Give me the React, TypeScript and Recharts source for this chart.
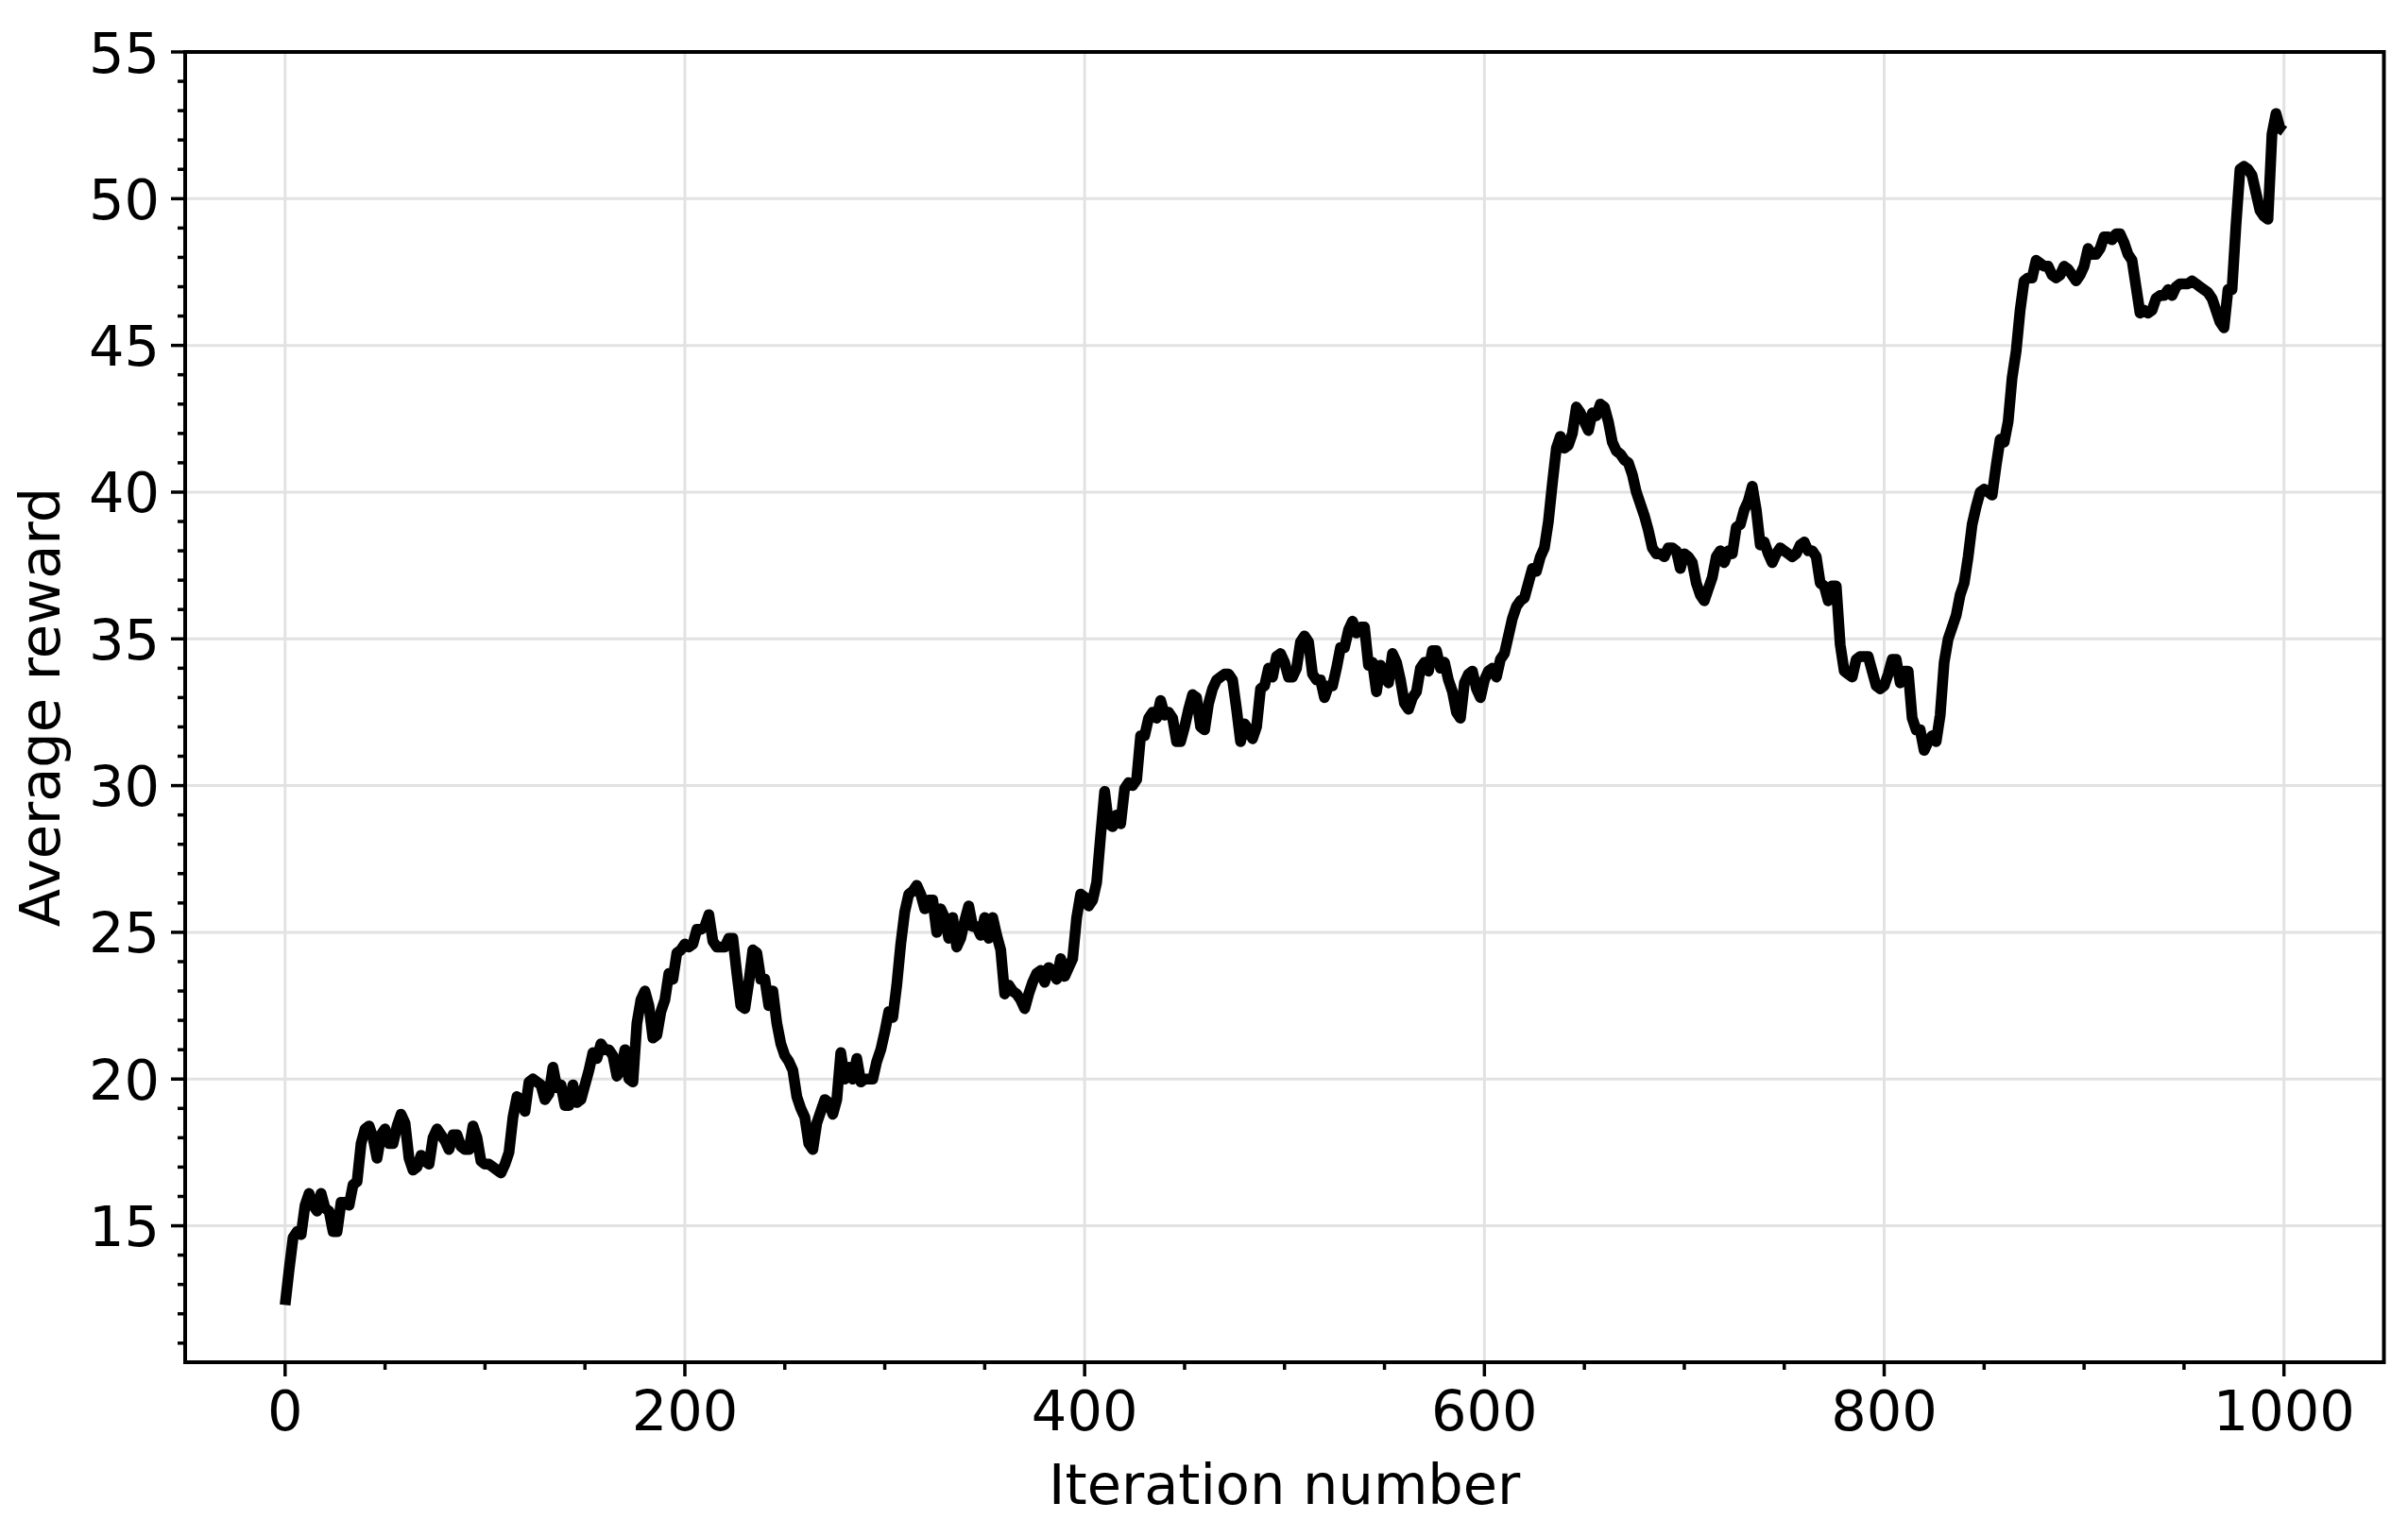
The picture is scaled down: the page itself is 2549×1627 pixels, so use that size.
import React from 'react';
import { LineChart, Line, XAxis, YAxis, CartesianGrid, ReferenceArea } from 'recharts';

// Iterations are sampled every STEP units starting from 0
const STEP = 2;

// Average reward at iterations 0, 2, 4, ... 1000
const rewards = [
  12.3, 13.5, 14.6, 14.8, 14.7, 15.7, 16.1, 15.7, 15.5, 16.1,
  15.6, 15.5, 14.8, 14.8, 15.8, 15.8, 15.7, 16.4, 16.5, 17.8,
  18.3, 18.4, 18.0, 17.3, 18.1, 18.3, 17.8, 17.8, 18.4, 18.8,
  18.5, 17.3, 16.9, 17.0, 17.4, 17.2, 17.1, 18.0, 18.3, 18.1,
  17.9, 17.6, 18.1, 18.1, 17.7, 17.6, 17.6, 18.4, 18.0, 17.2,
  17.1, 17.1, 17.0, 16.9, 16.8, 17.1, 17.5, 18.7, 19.4, 19.3,
  18.9, 19.9, 20.0, 19.9, 19.8, 19.3, 19.5, 20.4, 19.7, 19.8,
  19.1, 19.1, 19.8, 19.2, 19.3, 19.8, 20.3, 20.9, 20.7, 21.2,
  21.0, 21.0, 20.8, 20.1, 20.3, 21.0, 20.0, 19.9, 21.9, 22.7,
  23.0, 22.5, 21.4, 21.5, 22.3, 22.7, 23.6, 23.4, 24.3, 24.4,
  24.6, 24.5, 24.6, 25.1, 25.1, 25.2, 25.6, 24.7, 24.5, 24.5,
  24.5, 24.8, 24.8, 23.6, 22.5, 22.4, 23.3, 24.4, 24.3, 23.4,
  23.4, 22.5, 23.0, 21.9, 21.2, 20.8, 20.6, 20.3, 19.4, 19.0,
  18.7, 17.8, 17.6, 18.5, 18.9, 19.3, 19.2, 18.8, 19.3, 20.9,
  20.0, 20.4, 20.0, 20.7, 19.9, 20.0, 20.0, 20.0, 20.6, 21.0,
  21.6, 22.3, 22.1, 23.2, 24.6, 25.7, 26.3, 26.4, 26.6, 26.3,
  25.8, 26.1, 26.1, 25.0, 25.8, 25.5, 24.8, 25.5, 24.5, 24.8,
  25.4, 25.9, 25.2, 25.2, 24.9, 25.5, 24.8, 25.5, 24.9, 24.4,
  22.9, 23.2, 23.0, 22.9, 22.7, 22.4, 22.9, 23.3, 23.6, 23.7,
  23.3, 23.8, 23.7, 23.4, 24.1, 23.5, 23.8, 24.1, 25.5, 26.3,
  26.2, 25.9, 26.1, 26.7, 28.3, 29.8, 28.7, 28.6, 29.0, 28.7,
  29.9, 30.1, 30.0, 30.2, 31.7, 31.7, 32.3, 32.5, 32.3, 32.9,
  32.4, 32.5, 32.3, 31.5, 31.5, 32.0, 32.6, 33.1, 33.0, 32.0,
  31.9, 32.8, 33.3, 33.6, 33.7, 33.8, 33.8, 33.6, 32.6, 31.5,
  32.1, 31.9, 31.6, 32.0, 33.3, 33.4, 34.0, 33.7, 34.4, 34.5,
  34.2, 33.7, 33.7, 34.0, 34.9, 35.1, 34.9, 33.8, 33.6, 33.6,
  33.0, 33.4, 33.4, 34.0, 34.7, 34.7, 35.3, 35.6, 35.2, 35.4,
  35.4, 34.1, 34.2, 33.2, 34.1, 33.7, 33.5, 34.5, 34.2, 33.6,
  32.8, 32.6, 33.0, 33.2, 34.0, 34.2, 33.9, 34.6, 34.6, 34.0,
  34.2, 33.6, 33.2, 32.5, 32.3, 33.5, 33.8, 33.9, 33.3, 33.0,
  33.6, 33.9, 34.0, 33.7, 34.3, 34.5, 35.1, 35.7, 36.1, 36.3,
  36.4, 36.9, 37.4, 37.3, 37.8, 38.1, 39.0, 40.3, 41.5, 41.9,
  41.5, 41.6, 42.0, 42.9, 42.7, 42.4, 42.1, 42.7, 42.6, 43.0,
  42.9, 42.4, 41.7, 41.4, 41.3, 41.1, 41.0, 40.6, 40.0, 39.6,
  39.2, 38.7, 38.1, 37.9, 37.9, 37.8, 38.1, 38.1, 38.0, 37.4,
  37.9, 37.8, 37.6, 36.9, 36.5, 36.3, 36.7, 37.1, 37.8, 38.0,
  37.6, 38.0, 37.9, 38.8, 38.9, 39.4, 39.7, 40.2, 39.4, 38.2,
  38.3, 37.9, 37.6, 37.9, 38.1, 38.0, 37.9, 37.8, 37.9, 38.2,
  38.3, 38.0, 38.0, 37.8, 36.9, 36.8, 36.3, 36.8, 36.8, 34.8,
  33.9, 33.8, 33.7, 34.3, 34.4, 34.4, 34.4, 33.9, 33.4, 33.3,
  33.4, 33.8, 34.3, 34.3, 33.5, 33.9, 33.9, 32.3, 31.9, 31.9,
  31.2, 31.5, 31.7, 31.5, 32.4, 34.2, 35.0, 35.4, 35.8, 36.5,
  36.9, 37.8, 38.9, 39.5, 40.0, 40.1, 40.0, 39.9, 40.9, 41.8,
  41.7, 42.4, 43.9, 44.8, 46.2, 47.2, 47.3, 47.3, 47.9, 47.8,
  47.7, 47.7, 47.4, 47.3, 47.4, 47.7, 47.6, 47.4, 47.2, 47.4,
  47.7, 48.3, 48.1, 48.1, 48.3, 48.7, 48.7, 48.6, 48.8, 48.8,
  48.5, 48.1, 47.9, 47.0, 46.1, 46.2, 46.1, 46.2, 46.6, 46.7,
  46.7, 46.9, 46.7, 47.0, 47.1, 47.1, 47.1, 47.2, 47.1, 47.0,
  46.9, 46.8, 46.6, 46.2, 45.8, 45.6, 46.9, 46.9, 49.1, 51.0,
  51.1, 51.0, 50.8, 50.2, 49.6, 49.4, 49.3, 52.2, 52.9, 52.4,
  52.3,
];

const xDomain = [-50, 1050];
const yDomain = [10.35, 55];
const xMajorTicks = [0, 200, 400, 600, 800, 1000];
const xMinorTicks = [50, 100, 150, 250, 300, 350, 450, 500, 550, 650, 700, 750, 850, 900, 950];
const yMajorTicks = [15, 20, 25, 30, 35, 40, 45, 50, 55];
const yMinorTicks = [
  11, 12, 13, 14, 16, 17, 18, 19, 21, 22, 23, 24, 26, 27, 28, 29,
  31, 32, 33, 34, 36, 37, 38, 39, 41, 42, 43, 44, 46, 47, 48, 49,
  51, 52, 53, 54,
];
const xLabel = 'Iteration number';
const yLabel = 'Average reward';

const data = rewards.map((v, i) => ({ iteration: i * STEP, reward: v }));
const xAllTicks = [...xMajorTicks, ...xMinorTicks].sort((a, b) => a - b);
const yAllTicks = [...yMajorTicks, ...yMinorTicks].sort((a, b) => a - b);

const FONT = '"DejaVu Sans", sans-serif';
const FS = 59;
const MAJOR_LEN = 15;
const MINOR_LEN = 8;
const TICK_W = 3.5;

const XTick = (props: any) => {
  const { x, y, payload } = props;
  const major = xMajorTicks.includes(payload.value);
  return (
    <g>
      <line x1={x} x2={x} y1={y} y2={y + (major ? MAJOR_LEN : MINOR_LEN)} stroke="#000" strokeWidth={TICK_W} />
      {major && (
        <text x={x} y={y + 72} textAnchor="middle" fontFamily={FONT} fontSize={FS} fill="#000">
          {payload.value}
        </text>
      )}
    </g>
  );
};

const YTick = (props: any) => {
  const { x, y, payload } = props;
  const major = yMajorTicks.includes(payload.value);
  return (
    <g>
      <line x1={x} x2={x - (major ? MAJOR_LEN : MINOR_LEN)} y1={y} y2={y} stroke="#000" strokeWidth={TICK_W} />
      {major && (
        <text x={x - 27} y={y + 21.5} textAnchor="end" fontFamily={FONT} fontSize={FS} fill="#000">
          {payload.value}
        </text>
      )}
    </g>
  );
};

const XLabel = (props: any) => {
  const vb = props.viewBox || {};
  return (
    <text x={vb.x + vb.width / 2} y={vb.y + 150} textAnchor="middle" fontFamily={FONT} fontSize={FS} fill="#000">
      {xLabel}
    </text>
  );
};

const YLabel = (props: any) => {
  const vb = props.viewBox || {};
  const cx = vb.x + 63;
  const cy = vb.y + vb.height / 2;
  return (
    <text
      x={cx}
      y={cy}
      transform={`rotate(-90, ${cx}, ${cy})`}
      textAnchor="middle"
      fontFamily={FONT}
      fontSize={FS}
      fill="#000"
    >
      {yLabel}
    </text>
  );
};

const scaleOf = (axis: any, dom: number[], start: number, size: number) => (v: number) =>
  axis && typeof axis.scale === 'function'
    ? axis.scale(v)
    : start + ((v - dom[0]) / (dom[1] - dom[0])) * size;

export default function App() {
  return (
    <div style={{ position: 'absolute', left: 0, top: 0, width: 2549, height: 1627, background: '#fff' }}>
      <LineChart
        width={2549}
        height={1627}
        data={data}
        margin={{ top: 55, right: 25.5, bottom: 0, left: 0 }}
      >
        <XAxis
          type="number"
          dataKey="iteration"
          domain={xDomain}
          allowDataOverflow
          ticks={xAllTicks}
          interval={0}
          tickSize={0}
          tickMargin={0}
          tickLine={false}
          axisLine={false}
          tick={<XTick />}
          height={185}
          label={{ content: <XLabel /> }}
        />
        <YAxis
          type="number"
          domain={yDomain}
          allowDataOverflow
          ticks={yAllTicks}
          interval={0}
          tickSize={0}
          tickMargin={0}
          tickLine={false}
          axisLine={false}
          tick={<YTick />}
          width={196}
          label={{ content: <YLabel /> }}
        />
        <CartesianGrid
          stroke="#e2e2e2"
          strokeWidth={3}
          verticalCoordinatesGenerator={(p: any) => {
            const s = scaleOf(p.xAxis, xDomain, p.offset.left, p.offset.width);
            return xMajorTicks.map((t) => s(t));
          }}
          horizontalCoordinatesGenerator={(p: any) => {
            const o = p.offset;
            const s =
              p.yAxis && typeof p.yAxis.scale === 'function'
                ? (v: number) => p.yAxis.scale(v)
                : (v: number) => o.top + ((yDomain[1] - v) / (yDomain[1] - yDomain[0])) * o.height;
            return yMajorTicks.map((t) => s(t));
          }}
        />
        <Line
          type="linear"
          dataKey="reward"
          stroke="#000"
          strokeWidth={11.5}
          strokeLinejoin="round"
          dot={false}
          activeDot={false}
          isAnimationActive={false}
        />
        <ReferenceArea
          x1={xDomain[0]}
          x2={xDomain[1]}
          y1={yDomain[0]}
          y2={yDomain[1]}
          fill="none"
          fillOpacity={0}
          stroke="#000"
          strokeWidth={4}
          ifOverflow="visible"
        />
      </LineChart>
    </div>
  );
}
